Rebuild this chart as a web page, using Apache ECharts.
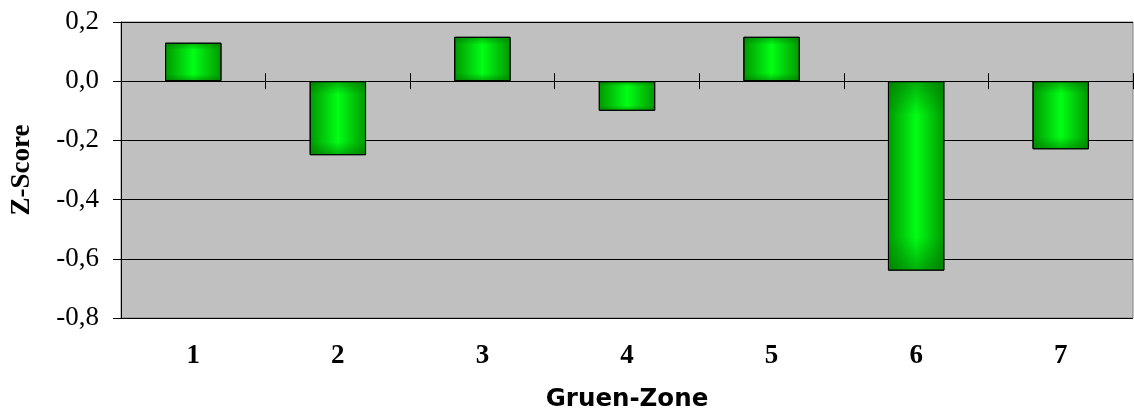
<!DOCTYPE html>
<html>
<head>
<meta charset="utf-8">
<script src="https://cdn.jsdelivr.net/npm/echarts@6/dist/echarts.min.js"></script>
<style>
html,body{margin:0;padding:0;background:#fff;}
#chart{width:1134px;height:412px;}
</style>
</head>
<body>
<div id="chart"></div>
<script>
const categories = ['1', '2', '3', '4', '5', '6', '7'];
const zScores = [0.13, -0.25, 0.15, -0.10, 0.15, -0.64, -0.23];
const yTicks = { min: -0.8, max: 0.2, interval: 0.2 };
const xTitle = 'Gruen-Zone';
const yTitle = 'Z-Score';

const chart = echarts.init(document.getElementById('chart'));
const sideFill = new echarts.graphic.LinearGradient(0, 0, 1, 0, [
  { offset: 0, color: '#009800' },
  { offset: 0.5, color: '#00ff14' },
  { offset: 1, color: '#009800' }
]);
const endShade = new echarts.graphic.LinearGradient(0, 0, 0, 1, [
  { offset: 0, color: 'rgba(0,110,0,0.55)' },
  { offset: 0.18, color: 'rgba(0,110,0,0)' },
  { offset: 0.82, color: 'rgba(0,110,0,0)' },
  { offset: 1, color: 'rgba(0,110,0,0.55)' }
]);
const serif = 'Liberation Serif';
chart.setOption({
  animation: false,
  grid: {
    left: 121, right: 1, top: 22, bottom: 94,
    outerBoundsMode: 'none', containLabel: false,
    show: true, backgroundColor: '#c0c0c0', borderColor: '#808080', borderWidth: 1
  },
  xAxis: [
    {
      type: 'category', data: categories, position: 'bottom',
      axisLine: { show: false, onZero: false },
      axisTick: { show: false },
      axisLabel: { color: '#000', fontFamily: serif, fontWeight: 'bold', fontSize: 27, margin: 25 },
      name: xTitle, nameLocation: 'middle', nameGap: 69,
      nameTextStyle: { color: '#000', fontFamily: 'DejaVu Sans', fontWeight: 'bold', fontSize: 24.5 }
    },
    {
      type: 'category', data: categories, position: 'bottom',
      axisLine: { show: true, onZero: true, onZeroAxisIndex: 0, lineStyle: { color: '#000', width: 1 } },
      axisTick: { show: true, length: 8, lineStyle: { color: '#000' } },
      axisLabel: { show: false }
    },
    {
      type: 'category', data: categories, position: 'top',
      axisLine: { show: false, onZero: true, onZeroAxisIndex: 1 },
      axisTick: { show: true, length: 8, lineStyle: { color: '#000' } },
      axisLabel: { show: false }
    }
  ],
  yAxis: [
    {
      type: 'value', min: yTicks.min, max: yTicks.max, interval: yTicks.interval,
      axisLine: { show: true, lineStyle: { color: '#000', width: 1 } },
      axisTick: { show: true, length: 8, lineStyle: { color: '#000' } },
      splitLine: { show: true, lineStyle: { color: '#000', width: 1 } },
      axisLabel: {
        color: '#000', fontFamily: serif, fontSize: 27, margin: 22,
        formatter: v => v.toFixed(1).replace('.', ',')
      },
      name: yTitle, nameLocation: 'middle', nameGap: 85, nameRotate: 90,
      nameTextStyle: { color: '#000', fontFamily: serif, fontWeight: 'bold', fontSize: 27 }
    },
    {
      type: 'value', min: yTicks.min, max: yTicks.max, interval: yTicks.interval,
      position: 'right',
      axisLine: { show: false }, axisTick: { show: false },
      axisLabel: { show: false }, splitLine: { show: false }
    }
  ],
  series: [
    {
      type: 'bar', data: zScores, xAxisIndex: 0, yAxisIndex: 0, barWidth: '39%',
      itemStyle: { color: sideFill, borderColor: '#000', borderWidth: 1 }
    },
    {
      type: 'bar', data: zScores, xAxisIndex: 0, yAxisIndex: 0, barWidth: '39%', barGap: '-100%',
      itemStyle: { color: endShade, borderColor: '#000', borderWidth: 1 }
    }
  ]
});
</script>
</body>
</html>
